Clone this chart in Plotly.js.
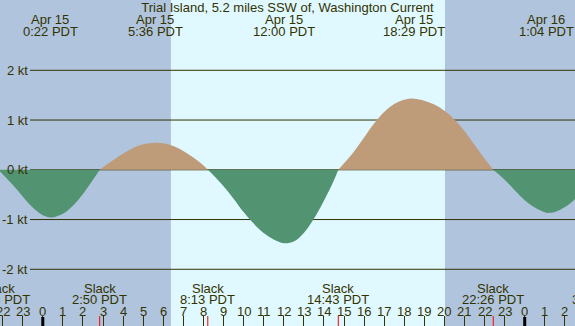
<!DOCTYPE html>
<html>
<head>
<meta charset="utf-8">
<script src="https://cdn.plot.ly/plotly-3.0.1.min.js"></script>
<style>html,body{margin:0;padding:0;overflow:hidden;}#chart{width:575px;height:326px;}</style>
</head>
<body>
<div id="chart"></div>
<script>
// ---- data (hours since Apr 15 00:00 PDT) ----
const chartTitle = "Trial Island, 5.2 miles SSW of, Washington Current";
const timeHours = [-2.22, -2, -1.5, -1, -0.5, 0, 0.367, 0.5, 1, 1.5, 2, 2.5, 2.833,
  3, 3.5, 4, 4.5, 5, 5.6, 6, 6.5, 7, 7.5, 8, 8.217,
  8.5, 9, 9.5, 10, 10.5, 11, 11.5, 12, 12.5, 13, 13.5, 14, 14.5, 14.717,
  15, 15.5, 16, 16.5, 17, 17.5, 18, 18.483, 19, 19.5, 20, 20.5, 21, 21.5, 22, 22.433,
  23, 23.5, 24, 24.5, 25, 25.067, 25.5, 26, 26.5, 27, 27.72];
const currentKt = [0, -0.09, -0.30, -0.535, -0.76, -0.915, -0.96, -0.957, -0.883, -0.721, -0.486, -0.202, 0,
  0.05, 0.19, 0.325, 0.44, 0.512, 0.545, 0.535, 0.48, 0.38, 0.245, 0.085, 0,
  -0.11, -0.33, -0.58, -0.85, -1.08, -1.27, -1.40, -1.475, -1.44, -1.27, -0.985, -0.62, -0.21, 0,
  0.13, 0.37, 0.65, 0.93, 1.16, 1.32, 1.41, 1.43, 1.39, 1.31, 1.185, 1.01, 0.78, 0.505, 0.225, 0,
  -0.20, -0.41, -0.61, -0.76, -0.855, -0.865, -0.85, -0.75, -0.59, -0.37, 0];

const extremeTimes = [0.367, 5.6, 12.0, 18.483, 25.067];
const extremeDates = ["Apr 15", "Apr 15", "Apr 15", "Apr 15", "Apr 16"];
const extremeLabels = ["0:22 PDT", "5:36 PDT", "12:00 PDT", "18:29 PDT", "1:04 PDT"];

const slackTimes = [-2.2, 2.833, 8.217, 14.717, 22.433, 27.72];
const slackLabels = ["21:48 PDT", "2:50 PDT", "8:13 PDT", "14:43 PDT", "22:26 PDT", "3:43 PDT"];

const hourTicks = [-2,-1,0,1,2,3,4,5,6,7,8,9,10,11,12,13,14,15,16,17,18,19,20,21,22,23,24,25,26];
const hourLabels = ["22","23","0","1","2","3","4","5","6","7","8","9","10","11","12","13","14","15","16","17","18","19","20","21","22","23","0","1","2"];
const midnights = [0, 24];

const ktLevels = [2, 1, 0, -1, -2];
const ktLabels = ["2 kt", "1 kt", "0 kt", "-1 kt", "-2 kt"];

const sunrise = 6.38, sunset = 20.03;

// ---- styling ----
const W = 575, H = 326;
const xRange = [-2.131, 26.504];
const yRange = [-3.140, 3.413];
const txt = '#333300';
const font = {family: 'Liberation Sans, Arial, sans-serif', size: 13, color: txt};
const nightColor = '#b0c4de', dayColor = '#e0f8ff';
const floodColor = '#be9c7a', ebbColor = '#529472';

// split the series into slack-to-slack segments
const segs = [];
let cur = {x: [], y: []};
for (let i = 0; i < timeHours.length; i++) {
  cur.x.push(timeHours[i]); cur.y.push(currentKt[i]);
  if (currentKt[i] === 0 && cur.x.length > 1) {
    segs.push(cur);
    cur = {x: [timeHours[i]], y: [0]};
  }
}
const traces = segs.map(s => {
  const pos = s.y.reduce((a, b) => a + b, 0) > 0;
  return {
    type: 'scatter', mode: 'lines', x: s.x, y: s.y,
    line: {width: 0, shape: 'spline', smoothing: 1},
    fill: 'tozeroy', fillcolor: pos ? floodColor : ebbColor,
    hoverinfo: 'skip', showlegend: false
  };
});

const toPaper = t => (t - xRange[0]) / (xRange[1] - xRange[0]);
const inRange = t => t >= xRange[0] && t <= xRange[1];

const shapes = [];
shapes.push({type: 'rect', layer: 'below', xref: 'x', yref: 'paper', x0: sunrise, x1: sunset, y0: 0, y1: 1,
  fillcolor: dayColor, line: {width: 0}});
ktLevels.forEach(v => shapes.push({type: 'line', layer: 'below', xref: 'paper', yref: 'y',
  x0: 30 / W, x1: 1, y0: v, y1: v, line: {color: txt, width: 1}}));
midnights.forEach(m => shapes.push({type: 'line', xref: 'x', yref: 'paper', x0: m, x1: m,
  y0: 0, y1: 9 / H, line: {color: '#000000', width: 3}}));
slackTimes.forEach(t => shapes.push({type: 'line', xref: 'x', yref: 'paper', x0: t, x1: t,
  y0: 0, y1: 10 / H, line: {color: '#ff0000', width: 1}}));

const ann = [];
const mk = (t, yPx, text) => {
  const a = {text: text, showarrow: false, font: font, yref: 'paper', y: 1 - yPx / H, yanchor: 'middle', xanchor: 'center'};
  if (inRange(t)) { a.xref = 'x'; a.x = t; } else { a.xref = 'paper'; a.x = toPaper(t); }
  return a;
};
extremeTimes.forEach((t, i) => {
  ann.push(mk(t, 20, extremeDates[i]));
  ann.push(mk(t, 32, extremeLabels[i]));
});
slackTimes.forEach((t, i) => {
  ann.push(mk(t, 288, 'Slack'));
  ann.push(mk(t, 299.5, slackLabels[i]));
});
hourTicks.forEach((t, i) => ann.push(mk(t, 311.5, hourLabels[i])));
ktLevels.forEach((v, i) => ann.push({text: ktLabels[i], showarrow: false, font: font,
  xref: 'paper', x: 29.5 / W, xanchor: 'right', yref: 'y', y: v, yanchor: 'middle'}));

const layout = {
  width: W, height: H,
  margin: {l: 0, r: 0, t: 0, b: 0, pad: 0},
  paper_bgcolor: nightColor, plot_bgcolor: nightColor,
  font: font,
  title: {text: chartTitle, font: font, x: 0.5, xanchor: 'center', xref: 'paper',
    y: 1 - 7.5 / H, yanchor: 'middle', yref: 'container'},
  xaxis: {range: xRange, showgrid: false, zeroline: false, showline: false,
    tickmode: 'array', tickvals: hourTicks, showticklabels: false,
    ticks: 'inside', ticklen: 10, tickwidth: 1, tickcolor: txt, fixedrange: true},
  yaxis: {range: yRange, showgrid: false, zeroline: false, showline: false,
    showticklabels: false, ticks: '', fixedrange: true},
  shapes: shapes,
  annotations: ann,
  showlegend: false
};

Plotly.newPlot('chart', traces, layout, {staticPlot: true, displayModeBar: false});
</script>
</body>
</html>
